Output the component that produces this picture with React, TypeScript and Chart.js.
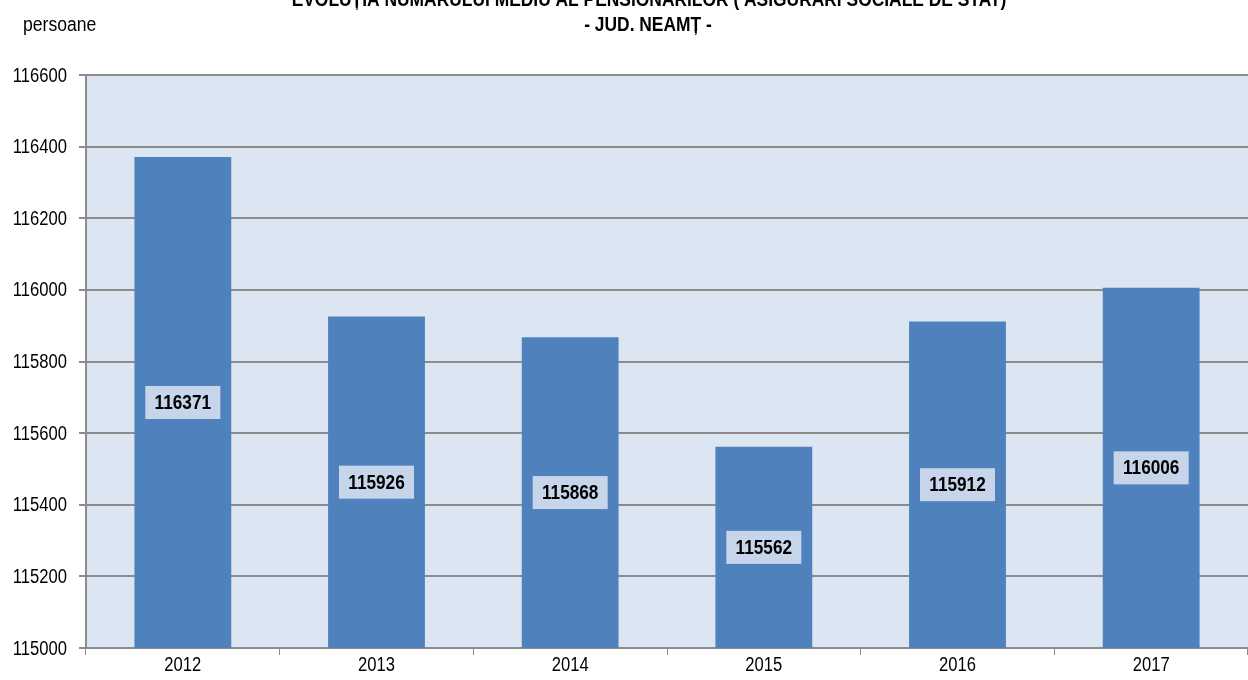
import React, { useEffect, useRef } from "react";
import { Chart, registerables } from "chart.js";

Chart.register(...registerables);

const categories = ["2012", "2013", "2014", "2015", "2016", "2017"];
const values = [116371, 115926, 115868, 115562, 115912, 116006];
const yMin = 115000;
const yMax = 116600;
const yStep = 200;
const titleLines = [
  "EVOLUȚIA NUMĂRULUI MEDIU AL PENSIONARILOR ( ASIGURĂRI SOCIALE DE STAT)",
  "- JUD. NEAMȚ -",
];
const unitLabel = "persoane";

const FONT = '"Liberation Sans", Arial, sans-serif';
const GRID = "#8c8c8c";

function narrowText(ctx: CanvasRenderingContext2D, text: string, x: number, y: number, align: CanvasTextAlign, sx: number) {
  ctx.save();
  ctx.translate(x, y);
  ctx.scale(sx, 1);
  ctx.textAlign = align;
  ctx.fillText(text, 0, 0);
  ctx.restore();
}

export default function App() {
  const ref = useRef<HTMLCanvasElement | null>(null);
  useEffect(() => {
    const canvas = ref.current;
    if (!canvas) return;

    const bgPlugin = {
      id: "bg",
      beforeDraw(chart: any) {
        const { ctx, chartArea } = chart;
        ctx.save();
        ctx.fillStyle = "#ffffff";
        ctx.fillRect(0, 0, chart.width, chart.height);
        ctx.fillStyle = "#dce6f2";
        ctx.fillRect(chartArea.left, chartArea.top, chartArea.right - chartArea.left, chartArea.bottom - chartArea.top);
        ctx.restore();
      },
    };

    const textPlugin = {
      id: "texts",
      afterDraw(chart: any) {
        const { ctx } = chart;
        ctx.save();
        ctx.fillStyle = "#000";
        ctx.textBaseline = "middle";
        ctx.font = `bold 20px ${FONT}`;
        narrowText(ctx, titleLines[0], 649, 0, "center", 0.87);
        narrowText(ctx, titleLines[1], 648, 25, "center", 0.87);
        ctx.font = `20px ${FONT}`;
        narrowText(ctx, unitLabel, 23, 25, "left", 0.88);

        // axis tick labels, positioned by the chart's scales
        ctx.font = `20px ${FONT}`;
        const ys = chart.scales.y;
        ys.ticks.forEach((t: any, i: number) => {
          narrowText(ctx, String(t.value), 67, ys.getPixelForTick(i) + 1, "right", 0.83);
        });
        const xs = chart.scales.x;
        categories.forEach((c, i) => {
          narrowText(ctx, c, xs.getPixelForValue(i), xs.bottom - 15, "center", 0.83);
        });
        ctx.restore();
      },
    };

    const labelPlugin = {
      id: "barLabels",
      afterDatasetsDraw(chart: any) {
        const { ctx } = chart;
        const xs = chart.scales.x;
        const ys = chart.scales.y;
        ctx.save();
        ctx.font = `bold 20px ${FONT}`;
        ctx.textBaseline = "middle";
        values.forEach((v, i) => {
          const cx = xs.getPixelForValue(i);
          const cy = (ys.getPixelForValue(v) + ys.getPixelForValue(yMin)) / 2;
          const w = 75;
          const h = 33;
          ctx.fillStyle = "#c6d5ea";
          ctx.fillRect(cx - w / 2, cy - h / 2, w, h);
          ctx.fillStyle = "#000";
          narrowText(ctx, String(v), cx, cy + 1, "center", 0.86);
        });
        ctx.restore();
      },
    };

    const chart = new Chart(canvas, {
      type: "bar",
      data: {
        labels: categories,
        datasets: [
          {
            data: values,
            backgroundColor: "#4f81bd",
            borderWidth: 0,
            categoryPercentage: 1,
            barPercentage: 0.5,
          },
        ],
      },
      options: {
        animation: false,
        responsive: false,
        maintainAspectRatio: false,
        layout: { padding: { top: 75, right: 0, left: 0, bottom: 0 } },
        plugins: {
          legend: { display: false },
          title: { display: false },
          tooltip: { enabled: false },
        },
        scales: {
          x: {
            offset: true,
            grid: {
              display: true,
              offset: true,
              drawOnChartArea: false,
              drawTicks: true,
              tickLength: 7,
              color: GRID,
              lineWidth: 1,
            },
            border: { display: true, color: GRID, width: 2 },
            ticks: {
              color: "rgba(0,0,0,0)",
              font: { family: FONT, size: 16 },
              padding: 2,
            },
            afterFit(scale: any) {
              scale.height = 32;
            },
          },
          y: {
            min: yMin,
            max: yMax,
            ticks: {
              stepSize: yStep,
              color: "rgba(0,0,0,0)",
              font: { family: FONT, size: 16 },
              padding: 9,
              callback: (v: any) => String(v),
            },
            grid: {
              color: GRID,
              lineWidth: 2,
              tickLength: 7,
              drawTicks: true,
            },
            border: { display: true, color: GRID, width: 2 },
            afterFit(scale: any) {
              scale.width = 86;
            },
          },
        },
      },
      plugins: [bgPlugin, labelPlugin, textPlugin],
    });
    return () => chart.destroy();
  }, []);

  return (
    <div style={{ position: "fixed", left: 0, top: 0, width: 1248, height: 680, background: "#fff" }}>
      <canvas ref={ref} width={1248} height={680} style={{ display: "block", width: 1248, height: 680 }} />
    </div>
  );
}
